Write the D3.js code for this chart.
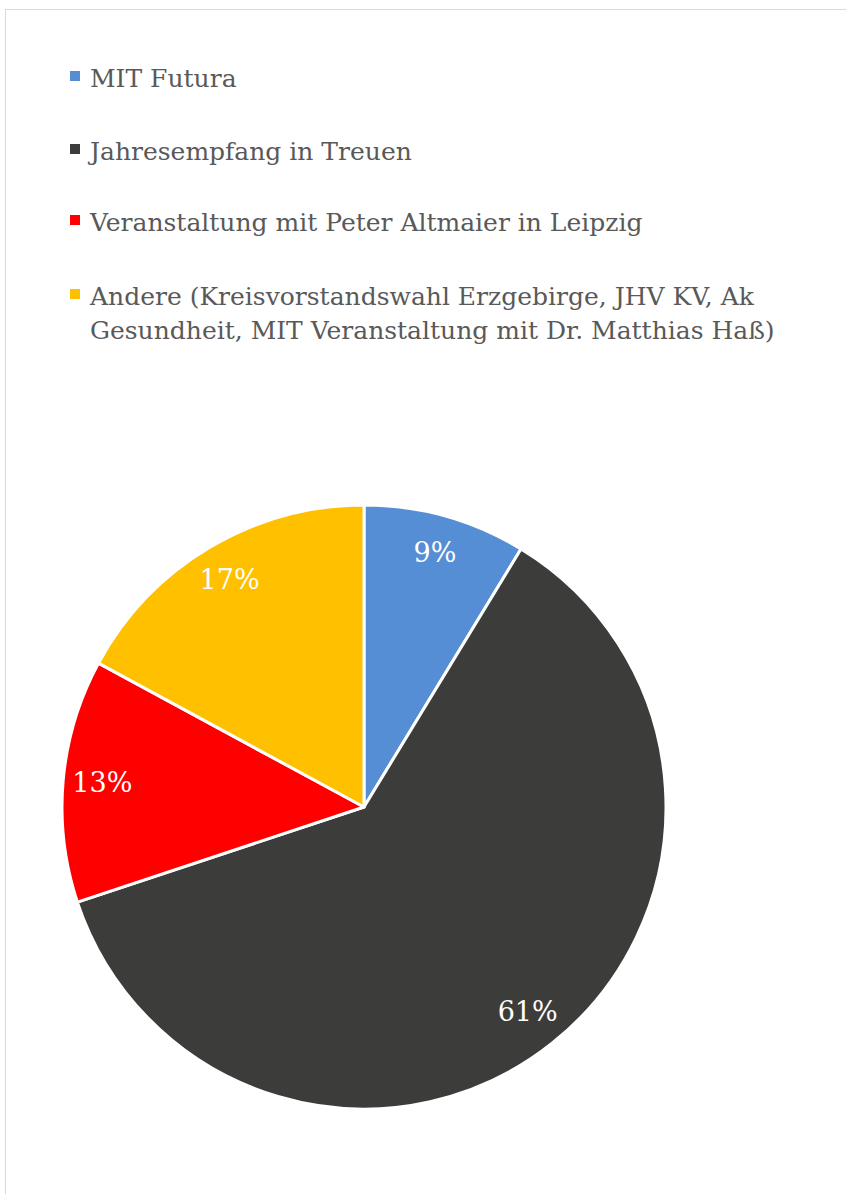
<!DOCTYPE html>
<html>
<head>
<meta charset="utf-8">
<script src="https://cdn.jsdelivr.net/npm/d3@7"></script>
<style>
  html, body { margin: 0; padding: 0; background: #fff; }
  svg { display: block; }
</style>
</head>
<body>
<svg id="chart" width="846" height="1194"></svg>
<script>
// ── Data ───────────────────────────────────────────────────────────────────

const categories = [
  'MIT Futura',
  'Jahresempfang in Treuen',
  'Veranstaltung mit Peter Altmaier in Leipzig',
  'Andere (Kreisvorstandswahl Erzgebirge, JHV KV, Ak Gesundheit, MIT Veranstaltung mit Dr. Matthias Haß)'
];
const values = [8.7, 61.2, 13.0, 17.1];
const colors = ['#558ed5', '#3c3c3b', '#ff0000', '#ffc000'];

// legend text split into lines as in the reference
const legendLines = [
  ['MIT Futura'],
  ['Jahresempfang in Treuen'],
  ['Veranstaltung mit Peter Altmaier in Leipzig'],
  ['Andere (Kreisvorstandswahl Erzgebirge, JHV KV, Ak', 'Gesundheit, MIT Veranstaltung mit Dr. Matthias Haß)']
];

// ── Layout ─────────────────────────────────────────────────────────────────

const W = 846, H = 1194;
const cx = 364, cy = 807, R = 302;
const serif = 'DejaVu Serif, Liberation Serif, serif';

const svg = d3.select('#chart');

// chart area frame (only top/left visible in the crop)
svg.append('rect')
  .attr('x', 5.5).attr('y', 9.5)
  .attr('width', W + 20).attr('height', H + 20)
  .attr('fill', '#fff')
  .attr('stroke', '#d9d9d9')
  .attr('stroke-width', 1);

// ── Legend ─────────────────────────────────────────────────────────────────

const legendTop = [87, 160, 231, 305];
const legend = svg.append('g').attr('class', 'legend');

legendLines.forEach((lines, i) => {
  const g = legend.append('g');
  g.append('rect')
    .attr('x', 70).attr('y', legendTop[i] - 16)
    .attr('width', 10).attr('height', 10)
    .attr('fill', colors[i]);
  const t = g.append('text')
    .attr('font-family', serif)
    .attr('font-size', 25)
    .attr('fill', '#595959');
  lines.forEach((ln, j) => {
    t.append('tspan')
      .attr('x', 90)
      .attr('y', legendTop[i] + j * 34)
      .text(ln);
  });
});

// ── Pie ────────────────────────────────────────────────────────────────────

const pie = d3.pie().sort(null).value(d => d)(values);
const arc = d3.arc().innerRadius(0).outerRadius(R);
const labelArc = d3.arc().innerRadius(R * 0.87).outerRadius(R * 0.87);

const gPie = svg.append('g').attr('transform', `translate(${cx},${cy})`);

gPie.selectAll('path')
  .data(pie)
  .join('path')
  .attr('d', arc)
  .attr('fill', (d, i) => colors[i])
  .attr('stroke', '#fff')
  .attr('stroke-width', 3)
  .attr('stroke-linejoin', 'round');

gPie.selectAll('text')
  .data(pie)
  .join('text')
  .attr('transform', d => `translate(${labelArc.centroid(d)})`)
  .attr('text-anchor', 'middle')
  .attr('dy', '0.3em')
  .attr('font-family', serif)
  .attr('font-size', 27)
  .attr('fill', '#fff')
  .text(d => Math.round(d.value) + '%');
</script>
</body>
</html>
